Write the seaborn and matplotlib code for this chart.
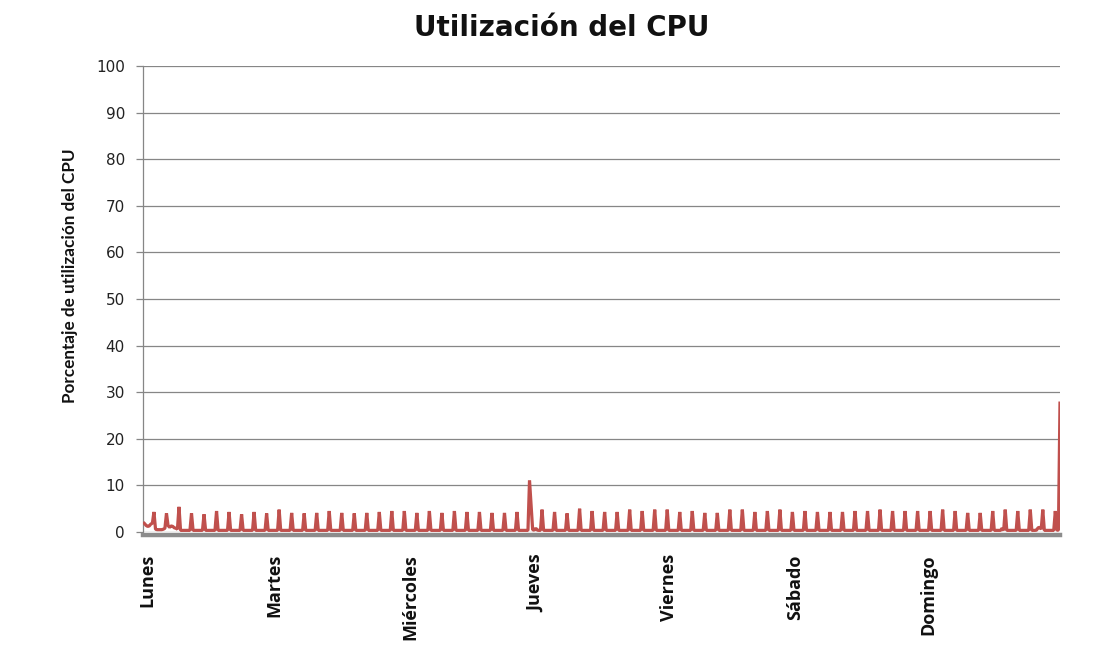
import matplotlib
matplotlib.use("Agg")
import matplotlib.pyplot as plt
import pandas as pd
import seaborn as sns

# texts
TITLE = "Utilización del CPU"
Y_LABEL = "Porcentaje de utilización del CPU"
DAYS = ["Lunes", "Martes", "Miércoles", "Jueves", "Viernes", "Sábado", "Domingo"]
# sample index where each day label sits
DAY_SAMPLES = [3, 84, 171, 251, 336, 417, 502]
Y_TICKS = [0, 10, 20, 30, 40, 50, 60, 70, 80, 90, 100]

# CPU %
START_VALUES = [2.1, 1.8, 1.4, 1.2, 1.3, 1.7, 1.9]
PEAKS = [4.3, 4.0, 5.4, 4.0, 3.8, 4.5, 4.3, 3.8, 4.3, 4.0,
         4.8, 4.1, 4.0, 4.1, 4.5, 4.1, 4.0, 4.1, 4.3, 4.5,
         4.5, 4.1, 4.5, 4.1, 4.5, 4.3, 4.3, 4.1, 4.1, 4.3,
         11.1, 4.8, 4.3, 4.0, 5.0, 4.5, 4.3, 4.3, 4.8, 4.5,
         4.8, 4.8, 4.3, 4.5, 4.1, 4.1, 4.8, 4.8, 4.3, 4.5,
         4.8, 4.3, 4.5, 4.3, 4.3, 4.3, 4.5, 4.5, 4.8, 4.5,
         4.5, 4.5, 4.5, 4.8, 4.5, 4.1, 4.1, 4.5, 4.8, 4.5,
         4.8, 4.8]
BASELINE = 0.35
# samples between two peaks that are not flat
FILL_OVERRIDES = {
    0: [0.6, 0.5, 0.5, 0.5, 0.5, 0.6, 0.8],
    1: [1.4, 1.0, 1.3, 1.2, 0.9, 0.8, 0.6],
    30: [5.7, 0.5, 0.4, 0.8, 0.4, 0.35, 0.35],
    67: [0.35, 0.35, 0.35, 0.35, 0.35, 0.8, 0.35],
    70: [0.35, 0.35, 0.35, 0.4, 0.9, 1.0, 0.6],
}
END_VALUES = [4.5, 0.4, 0.4, 28.0]

RED = "#C0504D"
GRID = "#868686"

cpu = list(START_VALUES)
for k, p in enumerate(PEAKS):
    cpu += [p] + FILL_OVERRIDES.get(k, [BASELINE] * 7)
cpu += END_VALUES
df = pd.DataFrame({"muestra": range(len(cpu)), "cpu": cpu})

sns.set_theme(style="white")
plt.rcParams["font.family"] = ["DejaVu Sans"]

fig = plt.figure(figsize=(11.07, 6.54), dpi=100)
ax = fig.add_axes([143 / 1107, 1 - 532 / 654, 917 / 1107, 466 / 654])

# spines first: moving a spine resets the tick styling
for side in ["top", "right"]:
    ax.spines[side].set_visible(False)
ax.spines["left"].set_color(GRID)
ax.spines["left"].set_linewidth(0.9)
ax.spines["bottom"].set_color("#8c8c8c")
ax.spines["bottom"].set_linewidth(3.2)
ax.spines["bottom"].set_position(("outward", 2))

sns.lineplot(data=df, x="muestra", y="cpu", color=RED, linewidth=2.3,
             estimator=None, ax=ax, zorder=3)
ax.lines[0].set_solid_joinstyle("bevel")
ax.lines[0].set_solid_capstyle("butt")

ax.set_xlim(0, len(cpu) - 1)
ax.set_ylim(0, 100)
ax.set_yticks(Y_TICKS)
ax.set_yticklabels([str(t) for t in Y_TICKS], fontsize=11, color="#222222")
ax.tick_params(axis="y", left=True, length=5, width=0.9, color=GRID, pad=8)

ax.set_xticks(DAY_SAMPLES)
ax.set_xticklabels(DAYS, rotation=90, fontfamily="Open Sans",
                   fontweight="bold", fontsize=13, color="#111111")
ax.tick_params(axis="x", bottom=False, length=0, pad=14)

ax.yaxis.grid(True, color=GRID, linewidth=0.9)
ax.xaxis.grid(False)

ax.set_xlabel("")
ax.set_ylabel(Y_LABEL, fontfamily="Lato", fontweight="bold", fontsize=12.3,
              color="#111111")
ax.yaxis.set_label_coords(-0.071, 0.55)

fig.text(0.507, 1 - 36 / 654, TITLE, ha="center", va="baseline",
         fontsize=20, fontweight="bold", color="#111111")

fig.savefig("out.png", dpi=100)
